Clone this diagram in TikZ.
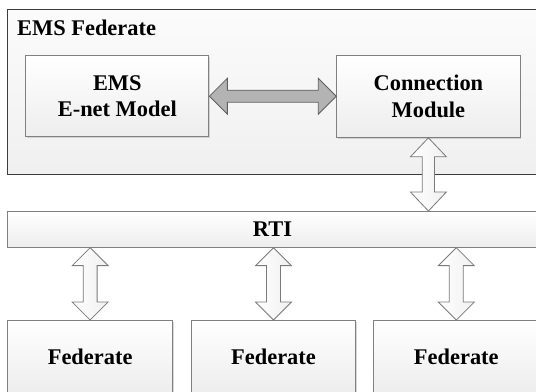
\documentclass[tikz,border=0pt]{standalone}
\usepackage{fontspec}
\setmainfont{Liberation Serif}
\usetikzlibrary{calc,shadows}
\definecolor{boxline}{HTML}{808080}
\definecolor{outerline}{HTML}{3C3C3C}
\definecolor{harrowfill}{HTML}{B3B3B3}
\definecolor{harrowline}{HTML}{5E5E5E}
\definecolor{varrowline}{HTML}{7A7A7A}
\tikzset{
  lbl/.style={font=\fontsize{22.5}{27}\selectfont\bfseries, text=black},
  box/.style={lbl, draw=boxline, line width=1bp, rectangle, align=center,
    top color=white, bottom color=black!7, inner sep=0pt,
    drop shadow={shadow xshift=1.2bp, shadow yshift=-1.2bp, fill=black!30, opacity=0.5}},
  outerbox/.style={draw=outerline, line width=1.1bp, rectangle, inner sep=0pt,
    top color=black!1.5, bottom color=black!6},
  harrow/.style={draw=harrowline, fill=harrowfill, line width=0.8bp, line join=miter},
  varrow/.style={draw=varrowline, left color=white, right color=black!6, line width=0.8bp, line join=miter},
}
\newcommand\dblvarrow[4]{%
  \draw[varrow] let \p1=(#1), \p2=(#2) in
    (\p1) -- (\x1+18pt,\y1-#3) -- (\x1+#4,\y1-#3) -- (\x1+#4,\y2+#3)
    -- (\x1+18pt,\y2+#3) -- (\x1,\y2) -- (\x1-18pt,\y2+#3) -- (\x1-#4,\y2+#3)
    -- (\x1-#4,\y1-#3) -- (\x1-18pt,\y1-#3) -- cycle;}
\newcommand\dblharrow[2]{%
  \draw[harrow] let \p1=(#1), \p2=(#2) in
    (\p1) -- (\x1+18pt,\y1+18pt) -- (\x1+18pt,\y1+6pt) -- (\x2-18pt,\y1+6pt)
    -- (\x2-18pt,\y1+18pt) -- (\x2,\y1) -- (\x2-18pt,\y1-18pt) -- (\x2-18pt,\y1-6pt)
    -- (\x1+18pt,\y1-6pt) -- (\x1+18pt,\y1-18pt) -- cycle;}
\begin{document}
\begin{tikzpicture}[x=1bp,y=1bp]
\useasboundingbox (0,0) rectangle (536,-391);
\clip (0,0) rectangle (536,-391);
\fill[white] (0,0) rectangle (536,-391);
% EMS federate container
\node[outerbox, anchor=north west, minimum width=535bp, minimum height=165bp] (fedbox) at (7,-9) {};
\node[lbl, anchor=base west, inner sep=0pt] (fedlabel) at (17,-35) {EMS Federate};
% inner boxes
\node[box, minimum width=183.3bp, minimum height=81bp] (ems) at (117.3,-96.2) {EMS\\E-net Model};
\node[box, minimum width=183.3bp, minimum height=81.6bp] (conn) at (428.4,-96.5) {Connection\\Module};
% RTI
\node[box, anchor=north west, minimum width=530bp, minimum height=35.7bp] (rti) at (7,-211) {RTI};
% federates
\node[box, anchor=north west, minimum width=165.3bp, minimum height=72bp] (f1) at (7,-320) {Federate};
\node[box, anchor=north west, minimum width=164bp, minimum height=72bp] (f2) at (191,-320) {Federate};
\node[box, anchor=north west, minimum width=165bp, minimum height=72bp] (f3) at (373.3,-320) {Federate};
% arrows
\dblharrow{ems.east}{conn.west}
\dblvarrow{conn.south}{conn.south |- rti.north}{19pt}{6.2pt}
\dblvarrow{rti.south -| f1.north}{f1.north}{18pt}{7pt}
\dblvarrow{rti.south -| f2.north}{f2.north}{18pt}{7pt}
\dblvarrow{rti.south -| f3.north}{f3.north}{18pt}{7pt}
\end{tikzpicture}
\end{document}
